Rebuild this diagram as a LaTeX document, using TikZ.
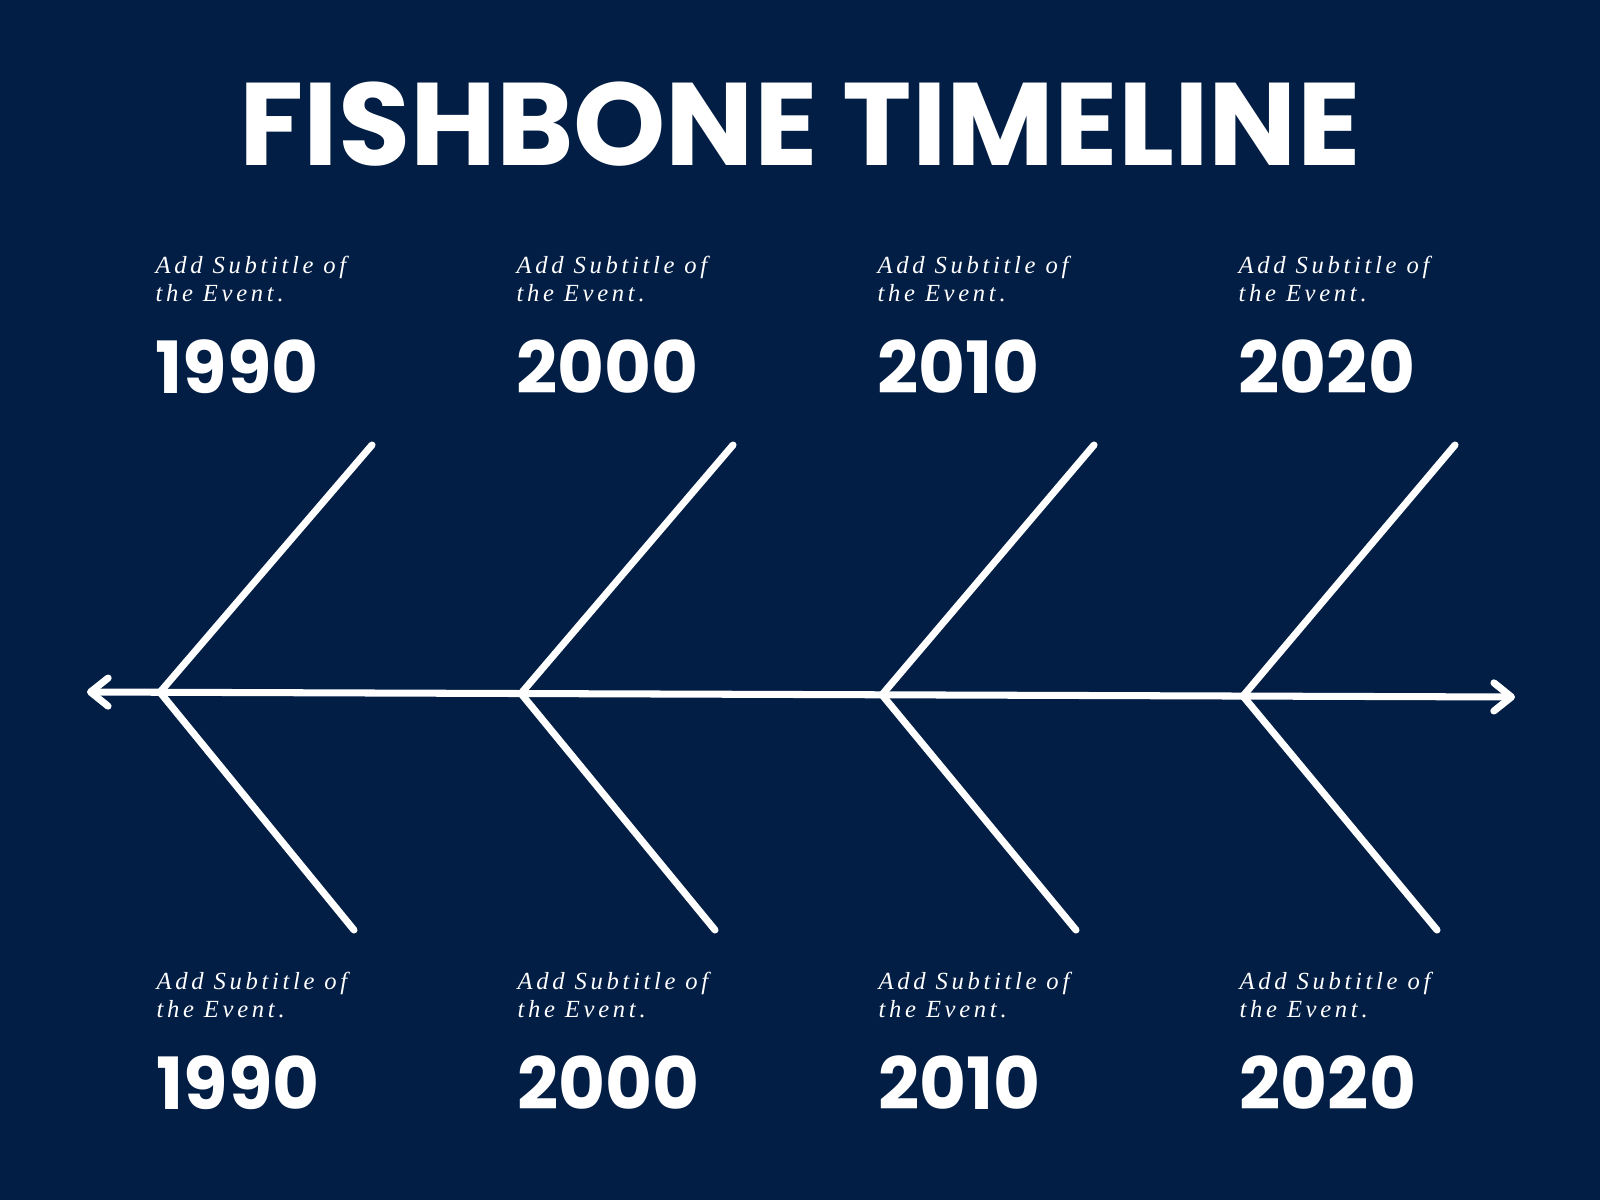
\documentclass[tikz,border=0pt]{standalone}
\usepackage{fontspec}
\usetikzlibrary{positioning,arrows.meta}
\newfontfamily\titlefont{Poppins}
\newfontfamily\subfont[LetterSpace=15]{Liberation Serif}
\definecolor{navy}{HTML}{031E45}
\tikzset{
  bone/.style={line width=2pt, draw=white, line cap=round},
  spine/.style={bone, {Straight Barb[length=5pt,width=8pt,round]}-{Straight Barb[length=5pt,width=8pt,round]}},
  title/.style={text=white, inner sep=0pt, anchor=base, font={\titlefont\bfseries\fontsize{33.4}{34}\selectfont}},
  subtitle/.style={text=white, inner sep=0pt, anchor=base west, align=left, font={\subfont\itshape\fontsize{7}{7.9}\selectfont}},
  year/.style={text=white, inner sep=0pt, anchor=base west, font={\titlefont\bfseries\fontsize{20.5}{21}\selectfont}}
}
\begin{document}
\begin{tikzpicture}[x=0.01cm, y=-0.01cm]
  \fill[navy] (0,0) rectangle (1600,1200);
  \useasboundingbox (0,0) rectangle (1600,1200);
  \node [title] (head) at (800,165) {FISHBONE TIMELINE};
  % spine
  \coordinate (L) at (87,692);
  \coordinate (R) at (1515,697);
  \draw [spine] (L) -- (R);
  % bones and labels
  \foreach \yr [count=\i from 0] in {1990,2000,2010,2020} {
    \pgfmathsetmacro{\jx}{160+361*\i}
    \pgfmathsetmacro{\jy}{692+(\jx-87)*5/1428}
    \coordinate (j\i) at (\jx,\jy);
    \coordinate (t\i) at (\jx+212,445);
    \coordinate (b\i) at (\jx+194,930);
    \draw [bone] (t\i) -- (j\i) -- (b\i);
    \node [subtitle] (subT\i) at (\jx-5,301) {Add Subtitle of\\the Event.};
    \node [year] (yrT\i) at (\jx-5,393) {\yr};
    \node [subtitle] (subB\i) at (\jx-4,1017) {Add Subtitle of\\the Event.};
    \node [year] (yrB\i) at (\jx-4,1109) {\yr};
  }
\end{tikzpicture}
\end{document}
